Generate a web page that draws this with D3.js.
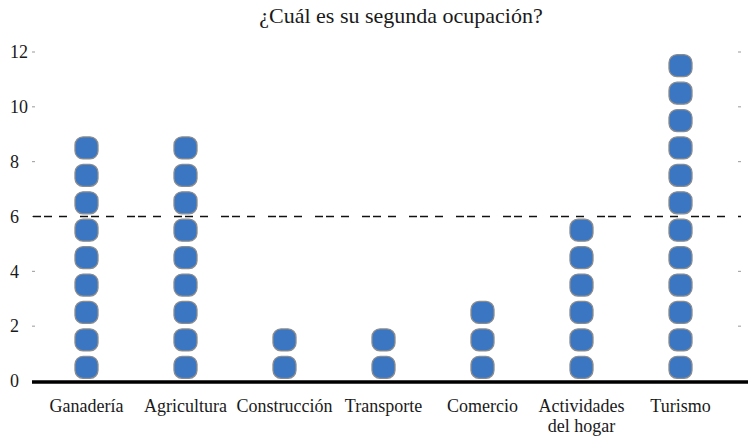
<!DOCTYPE html>
<html>
<head>
<meta charset="utf-8">
<script src="https://cdn.jsdelivr.net/npm/d3@7"></script>
<style>
  body { margin: 0; background: #fff; }
</style>
</head>
<body>
<script>
const width = 748;
const height = 437;
const serif = "'Liberation Serif', 'DejaVu Serif', 'Times New Roman', Times, serif";

const categories = ["Ganadería", "Agricultura", "Construcción", "Transporte", "Comercio", "Actividades del hogar", "Turismo"];
const counts = [9, 9, 2, 2, 3, 6, 12];
const yTicks = [0, 2, 4, 6, 8, 10, 12];
const refValue = 6;

const x = d3.scaleBand()
    .domain(categories)
    .range([37, 730]);

const y = d3.scaleLinear()
    .domain([0, 12])
    .range([381, 52]);

const svg = d3.select("body")
    .append("svg")
    .attr("width", width)
    .attr("height", height)
    .attr("font-family", serif);

// title
svg.append("text")
    .attr("x", 401)
    .attr("y", 23)
    .attr("text-anchor", "middle")
    .attr("font-size", 22)
    .attr("fill", "#1a1a1a")
    .text("¿Cuál es su segunda ocupación?");

// y tick labels (left aligned) and small tick marks on both sides
svg.append("g")
    .selectAll("text")
    .data(yTicks)
    .enter()
    .append("text")
    .attr("x", 10)
    .attr("y", d => y(d))
    .attr("dy", "0.35em")
    .attr("font-size", 18)
    .attr("fill", "#1a1a1a")
    .text(d => d);

svg.append("g")
    .attr("stroke", "#999")
    .selectAll("line")
    .data(yTicks.filter(d => d > 0))
    .enter()
    .append("line")
    .attr("x1", 32).attr("x2", 35)
    .attr("y1", d => y(d)).attr("y2", d => y(d));

svg.append("g")
    .attr("stroke", "#999")
    .selectAll("line")
    .data(yTicks.filter(d => d > 0))
    .enter()
    .append("line")
    .attr("x1", 738).attr("x2", 741)
    .attr("y1", d => y(d)).attr("y2", d => y(d));

// stacked dots, one per answer
const dots = [];
categories.forEach((c, i) => {
    for (let k = 0; k < counts[i]; k++) dots.push({cat: c, v: k + 0.5});
});

const dotW = 23, dotH = 22;
svg.append("g")
    .selectAll("rect")
    .data(dots)
    .enter()
    .append("rect")
    .attr("x", d => x(d.cat) + x.bandwidth() / 2 - dotW / 2)
    .attr("y", d => y(d.v) - dotH / 2)
    .attr("width", dotW)
    .attr("height", dotH)
    .attr("rx", 8)
    .attr("ry", 8)
    .attr("fill", "#3b76c3")
    .attr("stroke", "#8c8c8c")
    .attr("stroke-width", 1.3);

// reference line
svg.append("line")
    .attr("x1", 33).attr("x2", 741)
    .attr("y1", y(refValue)).attr("y2", y(refValue))
    .attr("stroke", "#111")
    .attr("stroke-width", 1.3)
    .attr("stroke-dasharray", "8,3,8,7,8,13");

// x axis line
svg.append("line")
    .attr("x1", 32).attr("x2", 748)
    .attr("y1", y(0) + 1).attr("y2", y(0) + 1)
    .attr("stroke", "#000")
    .attr("stroke-width", 3.5);

// category labels, long one wrapped onto two lines
const labelLines = [];
categories.forEach(c => {
    const words = c === "Actividades del hogar" ? ["Actividades", "del hogar"] : [c];
    words.forEach((w, i) => labelLines.push({cat: c, text: w, line: i}));
});

svg.append("g")
    .selectAll("text")
    .data(labelLines)
    .enter()
    .append("text")
    .attr("x", d => x(d.cat) + x.bandwidth() / 2)
    .attr("y", d => 412 + d.line * 20)
    .attr("text-anchor", "middle")
    .attr("font-size", 18)
    .attr("fill", "#1a1a1a")
    .text(d => d.text);
</script>
</body>
</html>
